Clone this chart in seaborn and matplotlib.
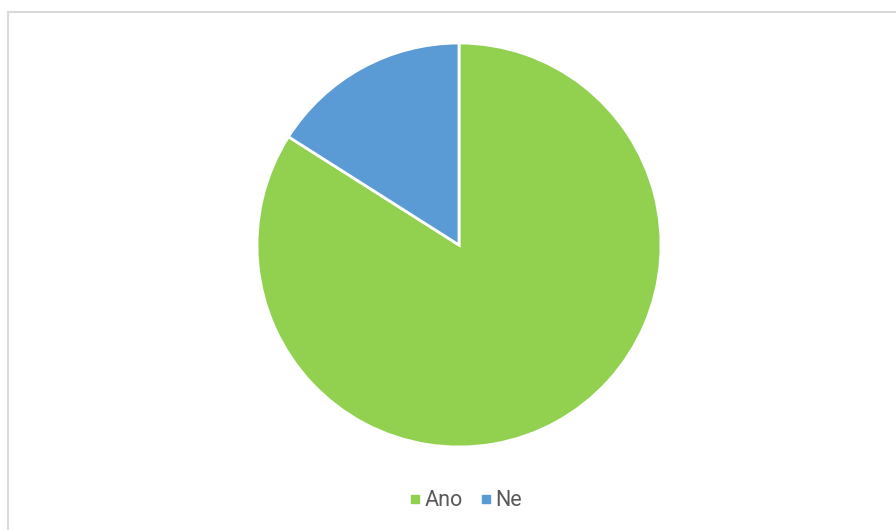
import matplotlib
matplotlib.use("Agg")
import matplotlib.pyplot as plt
import seaborn as sns
from matplotlib.lines import Line2D
from matplotlib.patches import Rectangle

# data
labels = ["Ano", "Ne"]
values = [84, 16]
colors = ["#92d050", "#5b9bd5"]

sns.set_theme(style="white")
plt.rcParams["font.family"] = ["Roboto", "DejaVu Sans"]

W, H = 896, 530
fig = plt.figure(figsize=(W / 100, H / 100), dpi=100)

# pie axes placed in pixel terms (centre ~ (459, 245), radius ~ 202)
cx, cy, r = 459, 245, 202
ax = fig.add_axes([(cx - r) / W, (H - cy - r) / H, 2 * r / W, 2 * r / H])
ax.pie(values, colors=colors, startangle=90, counterclock=False,
       wedgeprops=dict(edgecolor="white", linewidth=2))
ax.set_xlim(-1, 1)
ax.set_ylim(-1, 1)
ax.set_aspect("equal")
ax.axis("off")

# chart frame (right and bottom edges run off the picture)
fig.patches.append(Rectangle((7.5 / W, -0.1), 1.2, 1.1 - 12 / H, transform=fig.transFigure,
                             fill=False, edgecolor="#d9d9d9", linewidth=1.5))

handles = [Line2D([], [], marker="s", linestyle="", markersize=6, color=c) for c in colors]
fig.legend(handles, labels, loc="center", bbox_to_anchor=(465 / W, 1 - 501 / H),
           ncol=2, frameon=False, fontsize=15.5, handletextpad=0.1, columnspacing=0.7,
           handlelength=0.7, labelcolor="#595959")

fig.savefig("out.png", dpi=100)
